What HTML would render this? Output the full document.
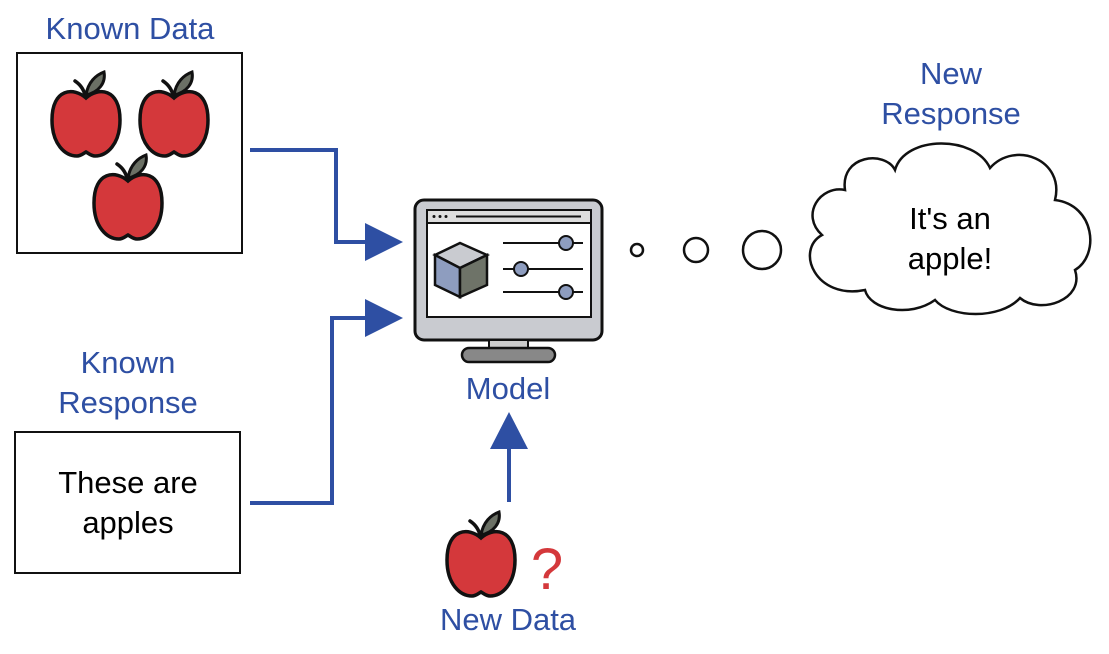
<!DOCTYPE html>
<html><head><style>
body{margin:0;background:#fff;width:1109px;height:649px;overflow:hidden}
svg text{font-family:"Liberation Sans",sans-serif;font-size:31px}
.b{fill:#2e4fa3}
</style></head><body>
<svg width="1109" height="649" viewBox="0 0 1109 649">
<defs>
<g id="apple">
<path d="M35,28 C33,20 30,15 24,11" fill="none" stroke="#111" stroke-width="3.5" stroke-linecap="round"/>
<path d="M35,25 C37,12 45,5 53,2 C55,13 48,22 35,25 Z" fill="#6b7065" stroke="#111" stroke-width="3"/>
<path d="M35,28 C23,17 1,18 1,50 C1,74 14,86 26,86 C30,86 33,83 35,82 C37,83 40,86 44,86 C56,86 69,74 69,50 C69,18 47,17 35,28 Z" fill="#d4383b" stroke="#111" stroke-width="3.5"/>
</g>
</defs>
<text x="130" y="39" text-anchor="middle" class="b">Known Data</text>
<rect x="17" y="53" width="225" height="200" fill="none" stroke="#111" stroke-width="2"/>
<use href="#apple" transform="translate(51,70)"/>
<use href="#apple" transform="translate(139,70)"/>
<use href="#apple" transform="translate(93,153)"/>
<text x="128" y="373" text-anchor="middle" class="b">Known</text>
<text x="128" y="413" text-anchor="middle" class="b">Response</text>
<rect x="15" y="432" width="225" height="141" fill="none" stroke="#111" stroke-width="2"/>
<text x="128" y="493" text-anchor="middle">These are</text>
<text x="128" y="533" text-anchor="middle">apples</text>
<g stroke="#2e4fa3" stroke-width="4" fill="none">
<polyline points="250,150 336,150 336,242 370,242"/>
<polyline points="250,503 332,503 332,318 370,318"/>
<line x1="509" y1="502" x2="509" y2="445"/>
</g>
<polygon points="365,223 403,242 365,261" class="b"/>
<polygon points="365,299 403,318 365,337" class="b"/>
<polygon points="490,449 509,412 528,449" class="b"/>
<rect x="415" y="200" width="187" height="140" rx="9" fill="#c9cbd0" stroke="#111" stroke-width="3"/>
<rect x="427" y="210" width="164" height="107" fill="#fff" stroke="#111" stroke-width="2"/>
<rect x="427" y="210" width="164" height="13" fill="#ddd" stroke="#111" stroke-width="2"/>
<circle cx="434" cy="216.5" r="1.5" fill="#111"/><circle cx="440" cy="216.5" r="1.5" fill="#111"/><circle cx="446" cy="216.5" r="1.5" fill="#111"/>
<line x1="456" y1="216.5" x2="581" y2="216.5" stroke="#111" stroke-width="2"/>
<rect x="489" y="340" width="39" height="10" fill="#ccc" stroke="#111" stroke-width="2"/>
<rect x="462" y="348" width="93" height="14" rx="7" fill="#888" stroke="#111" stroke-width="2.5"/>
<polygon points="435,255 460,243 487,255 460,268" fill="#c9cbd0" stroke="#111" stroke-width="2.5"/>
<polygon points="435,255 460,268 460,297 435,285" fill="#8e9dbf" stroke="#111" stroke-width="2.5"/>
<polygon points="460,268 487,255 487,285 460,297" fill="#6e7368" stroke="#111" stroke-width="2.5"/>
<g stroke="#111" stroke-width="2">
<line x1="503" y1="243" x2="583" y2="243"/><line x1="503" y1="269" x2="583" y2="269"/><line x1="503" y1="292" x2="583" y2="292"/>
<circle cx="566" cy="243" r="7" fill="#8e9dbf"/><circle cx="521" cy="269" r="7" fill="#8e9dbf"/><circle cx="566" cy="292" r="7" fill="#8e9dbf"/>
</g>
<text x="508" y="399" text-anchor="middle" class="b">Model</text>
<use href="#apple" transform="translate(446,510)"/>
<text x="547" y="589" text-anchor="middle" style="font-size:58px" fill="#d4383b">?</text>
<text x="508" y="630" text-anchor="middle" class="b">New Data</text>
<g fill="#fff" stroke="#111" stroke-width="2.5">
<circle cx="637" cy="250" r="6"/><circle cx="696" cy="250" r="12"/><circle cx="762" cy="250" r="19"/>
</g>
<path d="M845,190 C840,155 885,150 895,170 C905,135 975,135 990,168 C1015,140 1065,160 1055,200 C1095,205 1100,255 1075,270 C1085,300 1040,315 1020,298 C1000,320 950,318 935,300 C910,318 870,310 865,290 C815,300 795,250 822,235 C800,215 820,185 845,190 Z" fill="#fff" stroke="#111" stroke-width="2.5"/>
<text x="950" y="229" text-anchor="middle">It's an</text>
<text x="950" y="269" text-anchor="middle">apple!</text>
<text x="951" y="84" text-anchor="middle" class="b">New</text>
<text x="951" y="124" text-anchor="middle" class="b">Response</text>
</svg>
</body></html>
